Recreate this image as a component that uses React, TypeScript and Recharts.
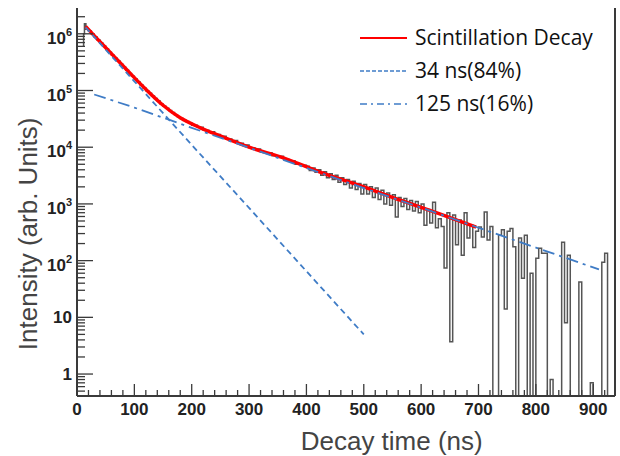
import { ComposedChart, Line, XAxis, YAxis, Legend } from 'recharts';

// measured histogram: [time ns, counts]; 0 = empty bin
const decayHistogram: [number, number][] = [
    [10, 6.0e5], [11.5, 1.0e6], [13, 1.5e6], [15.5, 1.2e6],
    [20, 1.12e6], [25, 9.9e5], [30, 8.8e5], [35, 7.8e5], [40, 6.9e5], [45, 6.1e5], [50, 5.4e5],
    [55, 4.75e5], [60, 4.2e5], [65, 3.7e5], [70, 3.3e5], [75, 2.9e5], [80, 2.57e5], [85, 2.27e5],
    [90, 2.0e5], [95, 1.79e5], [100, 1.59e5], [105, 1.41e5], [110, 1.25e5], [115, 1.11e5], [120, 9.9e4],
    [125, 8.9e4], [130, 8.0e4], [135, 7.2e4], [140, 6.5e4], [145, 5.8e4], [150, 5.3e4], [155, 4.85e4],
    [160, 4.45e4], [165, 4.1e4], [170, 3.75e4], [175, 3.45e4], [180, 3.2e4], [185, 3.0e4], [190, 2.85e4],
    [195, 2.7e4],
    [200, 2.45e4], [210, 2.25e4], [220, 2.0e4], [230, 1.88e4], [240, 1.68e4], [250, 1.56e4], [260, 1.4e4],
    [270, 1.31e4], [280, 1.17e4], [290, 1.09e4], [300, 9.8e3], [310, 9.3e3], [320, 8.3e3], [330, 8.0e3],
    [340, 7.1e3], [350, 6.9e3], [360, 6.1e3], [370, 5.8e3], [380, 5.0e3], [390, 4.8e3],
    [400, 4.6e3], [405, 3.9e3], [410, 4.3e3], [415, 3.6e3], [420, 4.0e3], [425, 3.2e3], [430, 3.7e3],
    [435, 2.9e3], [440, 3.4e3], [445, 2.7e3], [450, 3.2e3], [455, 2.4e3], [460, 2.9e3], [465, 2.2e3],
    [470, 2.7e3], [475, 1.9e3], [480, 2.5e3], [485, 1.8e3], [490, 2.3e3], [495, 1.5e3], [500, 2.2e3],
    [505, 1.5e3], [510, 2.0e3], [515, 1.3e3], [520, 1.9e3], [525, 1.2e3], [530, 1.75e3], [535, 1.0e3],
    [540, 1.55e3], [545, 950], [550, 1.45e3], [555, 590], [560, 1.3e3],
    [565, 900], [570, 1.25e3], [575, 800], [580, 1.15e3], [585, 750], [590, 1.1e3], [595, 700], [600, 1.0e3],
    [605, 420], [610, 800], [615, 460], [620, 1070], [625, 380], [630, 550], [635, 400], [640, 74],
    [645, 700], [650, 3.7], [655, 640], [660, 190], [665, 520], [670, 125], [675, 700], [680, 250],
    [685, 420], [690, 170], [695, 330], [700, 390], [705, 260], [710, 720], [715, 230], [720, 400],
    [725, 0], [730, 0], [735, 280], [740, 350], [745, 14], [750, 330], [755, 370], [760, 175],
    [765, 0], [770, 250], [775, 49], [780, 280], [785, 0], [790, 60], [795, 0], [800, 110],
    [805, 165], [810, 135], [815, 135], [820, 0], [825, 0.8], [830, 0], [835, 0], [840, 0],
    [845, 210], [850, 8], [855, 125], [860, 0], [865, 0], [870, 0], [875, 42], [880, 0],
    [885, 0], [890, 0], [895, 0.7], [900, 0], [905, 0], [910, 0], [915, 94], [920, 135],
    [925, 0], [928, 0],
];

// total fit (red)
const fitCurve: [number, number][] = [
    [15, 1.35e6], [30, 9.3e5], [60, 4.47e5], [90, 2.14e5], [120, 1.05e5], [150, 5.5e4],
    [180, 3.3e4], [215, 2.2e4], [245, 1.65e4], [300, 1.0e4], [360, 6.5e3], [425, 3.6e3],
    [500, 2.0e3], [565, 1.15e3], [630, 680], [696, 390],
];

// fast component, 34 ns
const fastComponent: [number, number][] = [
    [15, 1.3e6], [100, 1.45e5], [200, 1.1e4], [300, 850], [400, 65], [500, 5],
];

// slow component, 125 ns
const slowComponent: [number, number][] = [
    [30, 8.5e4], [100, 5.0e4], [200, 2.2e4], [300, 9.8e3], [400, 4.3e3], [500, 1.9e3],
    [600, 860], [700, 380], [800, 170], [910, 70],
];

const legendLabels = ['Scintillation Decay', '34 ns(84%)', '125 ns(16%)'];

const xMajorTicks = [0, 100, 200, 300, 400, 500, 600, 700, 800, 900];
const yMajorTicks = [1, 10, 100, 1e3, 1e4, 1e5, 1e6];
const yTickBase = ['1', '10', '10', '10', '10', '10', '10'];
const yTickExp = ['', '', '2', '3', '4', '5', '6'];

const X_DOMAIN: [number, number] = [0, 938];
const Y_DOMAIN: [number, number] = [0.41, 2.85e6];
const EMPTY_BIN = 0.05; // log axis can't show 0, drop below the frame

const AXIS = '#3a3a3a';
const RED = '#ff0000';
const BLUE = '#3f7cc6';
const HIST = '#555555';

const toPoints = (arr: [number, number][]) =>
    arr.map(([x, y]) => ({ x, y: y > 0 ? y : EMPTY_BIN }));

const xTicks: number[] = [];
for (let t = 0; t <= 920; t += 20) xTicks.push(t);

const yTicks: number[] = [];
for (let e = -1; e <= 6; e++) {
    for (let m = 1; m <= 9; m++) {
        const v = m * Math.pow(10, e);
        if (v >= Y_DOMAIN[0] && v <= Y_DOMAIN[1]) yTicks.push(v);
    }
}

const XTick = ({ x, y, payload }: any) => {
    const v = payload.value;
    const major = xMajorTicks.includes(v);
    return (
        <g>
            <line x1={x} x2={x} y1={y} y2={y - (major ? 12 : 6)} stroke={AXIS} strokeWidth={1.3} />
            {major && (
                <text x={x} y={y + 19} textAnchor="middle" fontSize={17} fontWeight="bold"
                    fontFamily="'Liberation Sans', Arial, sans-serif" fill="#222">
                    {v}
                </text>
            )}
        </g>
    );
};

const YTick = ({ x, y, payload }: any) => {
    const v = payload.value;
    const idx = yMajorTicks.findIndex(m => Math.abs(m - v) / m < 1e-6);
    const major = idx >= 0;
    const exp = major ? yTickExp[idx] : '';
    return (
        <g>
            <line x1={x} x2={x + (major ? 16 : 8)} y1={y} y2={y} stroke={AXIS} strokeWidth={1.3} />
            {major && (
                <text x={x - 5} y={exp ? y + 10 : y + 6} textAnchor="end" fontSize={17} fontWeight="bold"
                    fontFamily="'Liberation Sans', Arial, sans-serif" fill="#222">
                    {yTickBase[idx]}
                    {exp && <tspan dy={-8} fontSize={11}>{exp}</tspan>}
                </text>
            )}
        </g>
    );
};

const LegendBox = () => {
    const styles = [
        { stroke: RED, width: 2, dash: undefined },
        { stroke: BLUE, width: 1.6, dash: '4 2' },
        { stroke: BLUE, width: 1.6, dash: '7 4 2 4' },
    ];
    return (
        <div>
            {legendLabels.map((label, i) => (
                <div key={label} style={{ display: 'flex', alignItems: 'center', height: 33 }}>
                    <svg width={47} height={10} style={{ marginRight: 8 }}>
                        <line x1={0} x2={47} y1={5} y2={5} stroke={styles[i].stroke}
                            strokeWidth={styles[i].width} strokeDasharray={styles[i].dash} />
                    </svg>
                    <span style={{ fontFamily: "'Open Sans', sans-serif", fontSize: 21, color: '#111', lineHeight: '33px' }}>
                        {label}
                    </span>
                </div>
            ))}
        </div>
    );
};

export default function App() {
    return (
        <div style={{ position: 'absolute', left: 0, top: 0, width: 620, height: 456, background: '#fff' }}>
            <ComposedChart width={620} height={456} margin={{ top: 8, right: 0, bottom: 0, left: 0 }}>
                <XAxis
                    dataKey="x"
                    type="number"
                    domain={X_DOMAIN}
                    allowDataOverflow
                    ticks={xTicks}
                    interval={0}
                    tickSize={0}
                    tickMargin={0}
                    tickLine={false}
                    tick={<XTick />}
                    height={60}
                    axisLine={{ stroke: AXIS, strokeWidth: 2 }}
                    label={{
                        content: ({ viewBox }: any) => (
                            <text x={viewBox.x + viewBox.width * 0.585} y={viewBox.y + 54} textAnchor="middle"
                                fontSize={26} fontFamily="'Liberation Sans', Arial, sans-serif" fill="#444">
                                Decay time (ns)
                            </text>
                        ),
                    }}
                />
                <XAxis xAxisId="top" orientation="top" type="number" domain={X_DOMAIN} height={0}
                    tick={false} tickLine={false} axisLine={{ stroke: AXIS, strokeWidth: 2 }} />
                <YAxis
                    type="number"
                    scale="log"
                    domain={Y_DOMAIN}
                    allowDataOverflow
                    ticks={yTicks}
                    interval={0}
                    tickSize={0}
                    tickMargin={0}
                    tickLine={false}
                    tick={<YTick />}
                    width={77}
                    axisLine={{ stroke: AXIS, strokeWidth: 2 }}
                    label={{
                        content: ({ viewBox }: any) => {
                            const cx = 37;
                            const cy = viewBox.y + viewBox.height * 0.582;
                            return (
                                <text x={cx} y={cy} transform={`rotate(-90, ${cx}, ${cy})`} textAnchor="middle"
                                    fontSize={26} fontFamily="'Liberation Sans', Arial, sans-serif" fill="#444">
                                    Intensity (arb. Units)
                                </text>
                            );
                        },
                    }}
                />
                <YAxis yAxisId="right" orientation="right" type="number" domain={[0, 1]} width={5}
                    tick={false} tickLine={false} axisLine={{ stroke: AXIS, strokeWidth: 2 }} />
                <Legend layout="vertical" align="center" verticalAlign="middle"
                    wrapperStyle={{ left: 360, top: 21, width: 260 }} content={<LegendBox />} />
                <Line data={toPoints(decayHistogram)} dataKey="y" type="stepAfter" stroke={HIST}
                    strokeWidth={1.5} dot={false} isAnimationActive={false} legendType="none" />
                <Line data={toPoints(fitCurve)} dataKey="y" type="monotone" stroke={RED}
                    strokeWidth={3.5} dot={false} isAnimationActive={false} />
                <Line data={toPoints(fastComponent)} dataKey="y" type="linear" stroke={BLUE}
                    strokeWidth={1.8} strokeDasharray="6 4" dot={false} isAnimationActive={false} />
                <Line data={toPoints(slowComponent)} dataKey="y" type="linear" stroke={BLUE}
                    strokeWidth={1.8} strokeDasharray="12 5 3 5" dot={false} isAnimationActive={false} />
            </ComposedChart>
        </div>
    );
}
